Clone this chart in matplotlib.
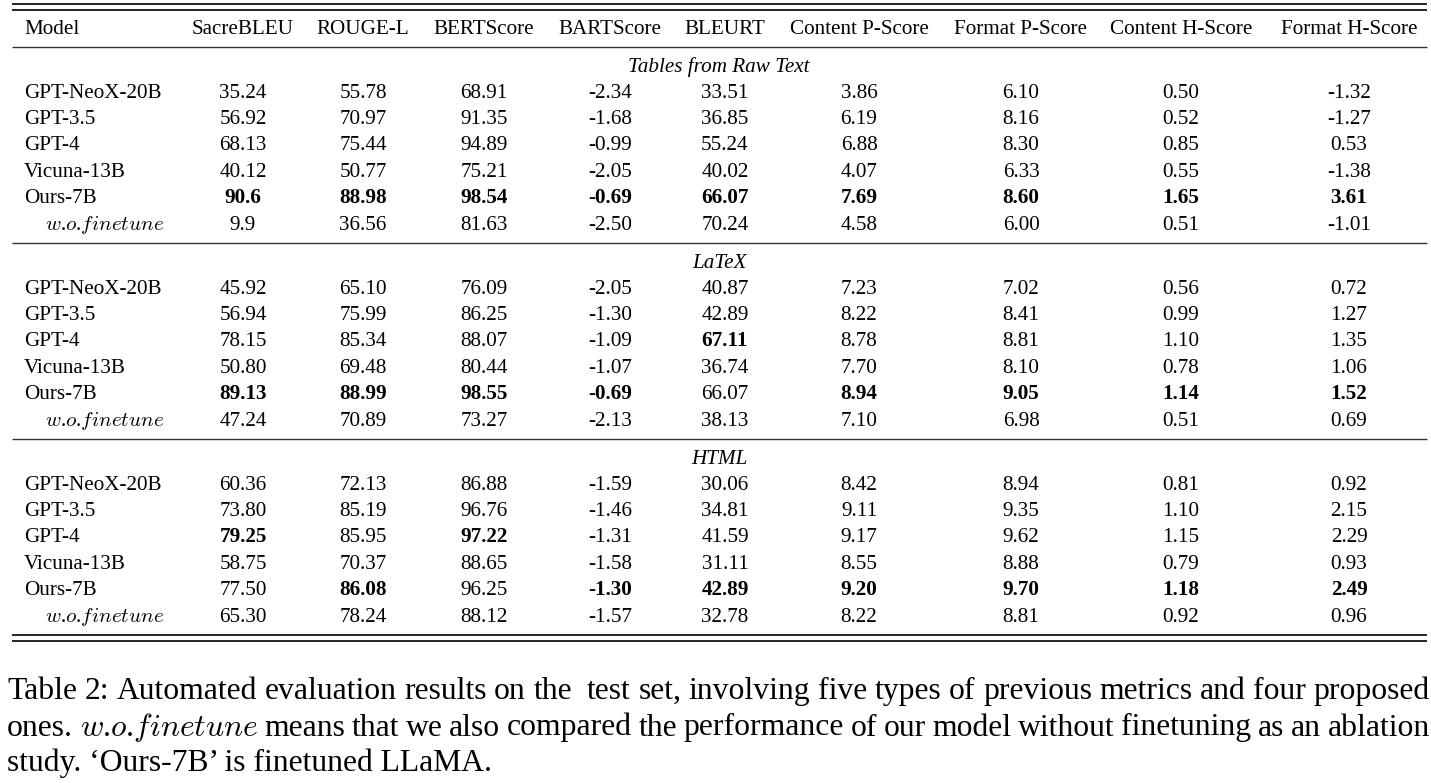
import matplotlib
matplotlib.use("Agg")
import matplotlib.pyplot as plt

plt.rcParams['font.family'] = ['Liberation Serif', 'DejaVu Serif']
plt.rcParams['mathtext.fontset'] = 'cm'

# --- table content ---
columns = ["Model", "SacreBLEU", "ROUGE-L", "BERTScore", "BARTScore", "BLEURT",
           "Content P-Score", "Format P-Score", "Content H-Score", "Format H-Score"]
models = ["GPT-NeoX-20B", "GPT-3.5", "GPT-4", "Vicuna-13B", "Ours-7B", r"$w$.$o$.$finetune$"]
sections = ["Tables from Raw Text", "LaTeX", "HTML"]

raw_text_scores = [
    ["35.24", "55.78", "68.91", "-2.34", "33.51", "3.86", "6.10", "0.50", "-1.32"],
    ["56.92", "70.97", "91.35", "-1.68", "36.85", "6.19", "8.16", "0.52", "-1.27"],
    ["68.13", "75.44", "94.89", "-0.99", "55.24", "6.88", "8.30", "0.85", "0.53"],
    ["40.12", "50.77", "75.21", "-2.05", "40.02", "4.07", "6.33", "0.55", "-1.38"],
    ["90.6", "88.98", "98.54", "-0.69", "66.07", "7.69", "8.60", "1.65", "3.61"],
    ["9.9", "36.56", "81.63", "-2.50", "70.24", "4.58", "6.00", "0.51", "-1.01"],
]
latex_scores = [
    ["45.92", "65.10", "76.09", "-2.05", "40.87", "7.23", "7.02", "0.56", "0.72"],
    ["56.94", "75.99", "86.25", "-1.30", "42.89", "8.22", "8.41", "0.99", "1.27"],
    ["78.15", "85.34", "88.07", "-1.09", "67.11", "8.78", "8.81", "1.10", "1.35"],
    ["50.80", "69.48", "80.44", "-1.07", "36.74", "7.70", "8.10", "0.78", "1.06"],
    ["89.13", "88.99", "98.55", "-0.69", "66.07", "8.94", "9.05", "1.14", "1.52"],
    ["47.24", "70.89", "73.27", "-2.13", "38.13", "7.10", "6.98", "0.51", "0.69"],
]
html_scores = [
    ["60.36", "72.13", "86.88", "-1.59", "30.06", "8.42", "8.94", "0.81", "0.92"],
    ["73.80", "85.19", "96.76", "-1.46", "34.81", "9.11", "9.35", "1.10", "2.15"],
    ["79.25", "85.95", "97.22", "-1.31", "41.59", "9.17", "9.62", "1.15", "2.29"],
    ["58.75", "70.37", "88.65", "-1.58", "31.11", "8.55", "8.88", "0.79", "0.93"],
    ["77.50", "86.08", "96.25", "-1.30", "42.89", "9.20", "9.70", "1.18", "2.49"],
    ["65.30", "78.24", "88.12", "-1.57", "32.78", "8.22", "8.81", "0.92", "0.96"],
]

# (row, column) cells set in bold
raw_text_bold = [(4, 0), (4, 1), (4, 2), (4, 3), (4, 4), (4, 5), (4, 6), (4, 7), (4, 8)]
latex_bold = [(2, 4), (4, 0), (4, 1), (4, 2), (4, 3), (4, 5), (4, 6), (4, 7), (4, 8)]
html_bold = [(2, 0), (2, 2), (4, 1), (4, 3), (4, 4), (4, 5), (4, 6), (4, 7), (4, 8)]

caption_lines = [
    "Table 2: Automated evaluation results on the  test set, involving five types of previous metrics and four proposed",
    r"ones. $w$.$o$.$finetune$ means that we also compared the performance of our model without finetuning as an ablation",
    "study. \u2018Ours-7B\u2019 is finetuned LLaMA.",
]

# --- layout (pixel space) ---
W, H = 1431, 783
col_x = [24, 243, 363, 484, 610, 725, 859, 1021, 1181, 1349]
x_left, x_right = 12, 1427
fs = 15.2
cap_fs = 22.8

fig = plt.figure(figsize=(W / 100, H / 100), dpi=100)
ax = fig.add_axes([0, 0, 1, 1])
ax.set_xlim(0, W)
ax.set_ylim(H, 0)
ax.axis('off')

# rules
ax.hlines([4, 9.5], x_left, x_right, color='black', lw=1.2)
ax.hlines([635, 640.5], x_left, x_right, color='black', lw=1.2)

# header
for i, name in enumerate(columns):
    ax.text(col_x[i], 33.5, name, fontsize=fs, ha='left' if i == 0 else 'center',
            va='baseline')

block_top = [46.5, 242.5, 438.5]
pitch = 26.4
for s, (title, scores, bold) in enumerate(zip(sections,
                                             [raw_text_scores, latex_scores, html_scores],
                                             [raw_text_bold, latex_bold, html_bold])):
    top = block_top[s]
    ax.hlines(top, x_left, x_right, color='#333333', lw=1.0)
    ax.text(719, top + 25.2, title, fontsize=fs, style='italic', ha='center', va='baseline')
    for r, model in enumerate(models):
        y = top + 51 + r * pitch
        mx = 45 if model.startswith('$') else col_x[0]
        ax.text(mx, y, model, fontsize=fs, ha='left', va='baseline')
        for c, val in enumerate(scores[r]):
            ax.text(col_x[c + 1], y, val, fontsize=fs, ha='center', va='baseline',
                    fontweight='bold' if (r, c) in bold else 'normal')

# caption, first two lines justified
renderer = fig.canvas.get_renderer()
cap_left, cap_right = 7, 1430
cap_base = [699, 735.5, 771.5]
for li, line in enumerate(caption_lines):
    if li == len(caption_lines) - 1:
        ax.text(cap_left, cap_base[li], line, fontsize=cap_fs, ha='left', va='baseline')
        continue
    words = line.split(' ')
    objs = []
    widths = []
    for w in words:
        t = ax.text(0, cap_base[li], w, fontsize=cap_fs, ha='left', va='baseline')
        objs.append(t)
        widths.append(t.get_window_extent(renderer).width if w else 0.0)
    gap = (cap_right - cap_left - sum(widths)) / (len(words) - 1)
    x = cap_left
    for t, wd in zip(objs, widths):
        t.set_x(x)
        x += wd + gap

fig.savefig('out.png', dpi=100)
